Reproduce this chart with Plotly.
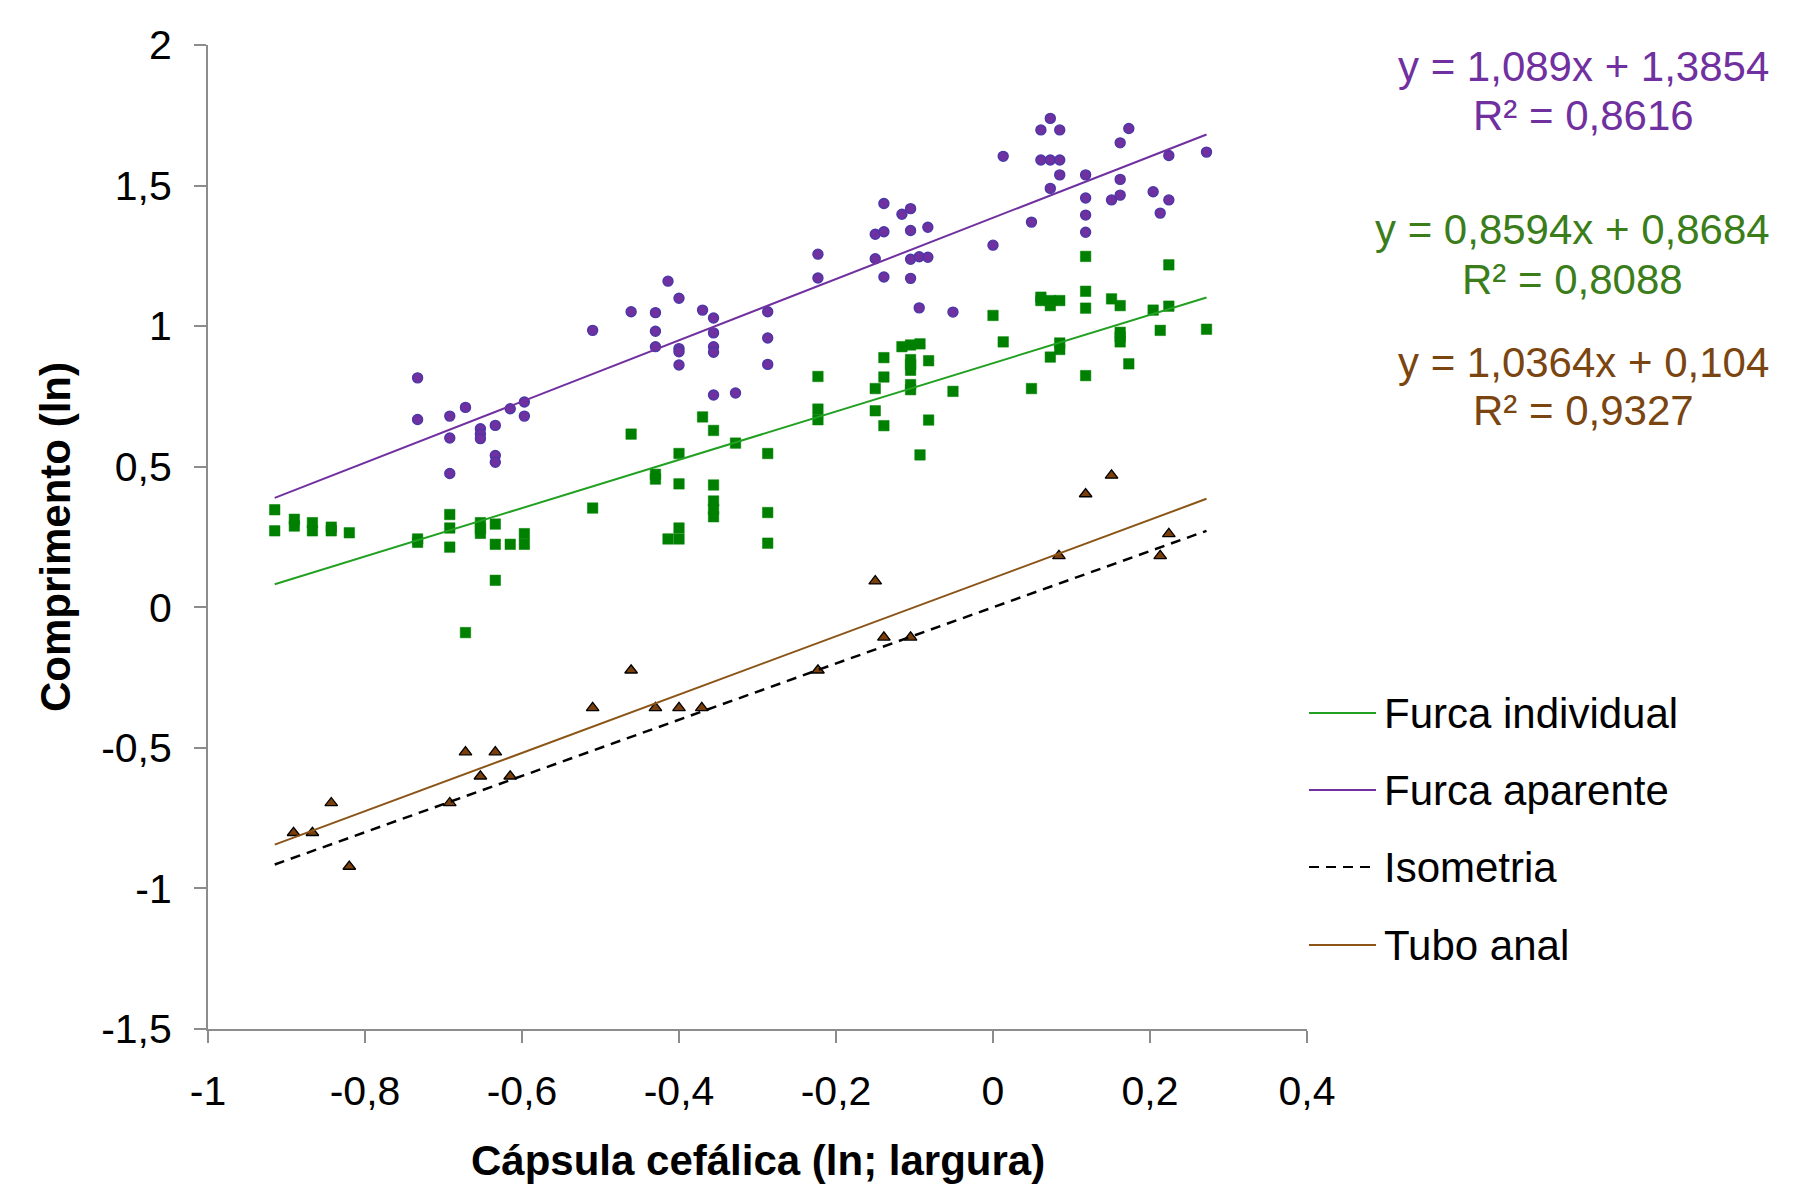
import numpy as np
import plotly.graph_objects as go

# ---- data ----
fa_x = [-0.733, -0.733, -0.692, -0.692, -0.692, -0.672, -0.653, -0.653, -0.653, -0.634, -0.634, -0.634,
        -0.615, -0.597, -0.597,
        -0.510, -0.461, -0.430, -0.430, -0.430, -0.414, -0.400, -0.400, -0.400, -0.400, -0.370, -0.356,
        -0.356, -0.356, -0.356, -0.356, -0.328, -0.287, -0.287, -0.287,
        -0.223, -0.223,
        -0.150, -0.150, -0.139, -0.139, -0.139, -0.116, -0.105, -0.105, -0.105, -0.105, -0.094, -0.083,
        -0.083, -0.094, -0.051, 0.000,
        0.013, 0.049, 0.061, 0.073, 0.085, 0.061, 0.073, 0.085, 0.085, 0.073, 0.118, 0.118, 0.118, 0.118,
        0.151, 0.162, 0.162, 0.162, 0.173, 0.204, 0.213, 0.224, 0.224, 0.272]
fa_y = [0.816, 0.668, 0.680, 0.602, 0.476, 0.711, 0.635, 0.616, 0.600, 0.647, 0.540, 0.516,
        0.706, 0.730, 0.680,
        0.985, 1.051, 1.048, 0.982, 0.927, 1.160, 1.099, 0.920, 0.909, 0.862, 1.057, 1.029,
        0.976, 0.927, 0.907, 0.755, 0.762, 1.051, 0.958, 0.864,
        1.256, 1.171,
        1.327, 1.240, 1.436, 1.336, 1.175, 1.398, 1.418, 1.340, 1.238, 1.170, 1.247, 1.245,
        1.352, 1.065, 1.050, 1.288,
        1.604, 1.370, 1.698, 1.739, 1.698, 1.591, 1.591, 1.591, 1.538, 1.490, 1.538, 1.456, 1.395, 1.334,
        1.449, 1.652, 1.522, 1.466, 1.703, 1.478, 1.402, 1.607, 1.449, 1.619]

fi_x = [-0.915, -0.915, -0.890, -0.890, -0.867, -0.867, -0.843, -0.843, -0.820, -0.733, -0.733,
        -0.692, -0.692, -0.692, -0.672, -0.653, -0.653, -0.653, -0.634, -0.634, -0.634, -0.615,
        -0.597, -0.597, -0.510, -0.461, -0.430, -0.430, -0.414, -0.400, -0.400, -0.400, -0.400,
        -0.370, -0.356, -0.356, -0.356, -0.356, -0.356, -0.328, -0.287, -0.287, -0.287,
        -0.223, -0.223, -0.223, -0.150, -0.150, -0.139, -0.139, -0.139, -0.116, -0.105, -0.093,
        -0.105, -0.105, -0.105, -0.105, -0.105, -0.082, -0.082, -0.093, -0.051,
        0.000, 0.013, 0.049, 0.061, 0.061, 0.073, 0.073, 0.085, 0.073, 0.085, 0.085,
        0.118, 0.118, 0.118, 0.118, 0.151, 0.162, 0.162, 0.162, 0.162, 0.173, 0.204, 0.213,
        0.224, 0.224, 0.272]
fi_y = [0.347, 0.272, 0.313, 0.289, 0.301, 0.272, 0.285, 0.272, 0.265, 0.243, 0.231,
        0.330, 0.282, 0.214, -0.090, 0.301, 0.280, 0.263, 0.296, 0.224, 0.096, 0.224,
        0.262, 0.224, 0.353, 0.616, 0.473, 0.456, 0.243, 0.547, 0.439, 0.282, 0.243,
        0.677, 0.629, 0.435, 0.378, 0.349, 0.322, 0.584, 0.547, 0.337, 0.228,
        0.821, 0.705, 0.667, 0.778, 0.699, 0.888, 0.819, 0.646, 0.927, 0.933, 0.937,
        0.881, 0.863, 0.843, 0.792, 0.774, 0.877, 0.666, 0.542, 0.768,
        1.038, 0.944, 0.778, 1.103, 1.091, 1.091, 1.073, 1.091, 0.890, 0.940, 0.917,
        1.248, 1.124, 1.064, 0.824, 1.097, 1.073, 0.978, 0.962, 0.944, 0.866, 1.057, 0.985,
        1.218, 1.071, 0.989]

ta_x = [-0.891, -0.867, -0.843, -0.820, -0.692, -0.672, -0.653, -0.634, -0.615, -0.510, -0.461,
        -0.430, -0.400, -0.371, -0.223, -0.150, -0.139, -0.105, 0.084, 0.118, 0.151, 0.213, 0.224]
ta_y = [-0.802, -0.802, -0.696, -0.922, -0.696, -0.515, -0.601, -0.515, -0.601, -0.358, -0.224,
        -0.358, -0.358, -0.358, -0.224, 0.093, -0.107, -0.107, 0.183, 0.403, 0.469, 0.183, 0.261]

# trendline coefficients (as labelled on the chart)
fa_coef = (1.089, 1.3854)
fi_coef = (0.8594, 0.8684)
ta_coef = (1.0364, 0.104)
iso_coef = (1.0, 0.0)

legend_names = ["Furca individual", "Furca aparente", "Isometria", "Tubo anal"]
eq_texts = [("y = 1,089x + 1,3854", "R² = 0,8616"),
            ("y = 0,8594x + 0,8684", "R² = 0,8088"),
            ("y = 1,0364x + 0,104", "R² = 0,9327")]

x_ticks = [-1, -0.8, -0.6, -0.4, -0.2, 0, 0.2, 0.4]
x_ticktext = ["-1", "-0,8", "-0,6", "-0,4", "-0,2", "0", "0,2", "0,4"]
y_ticks = [-1.5, -1, -0.5, 0, 0.5, 1, 1.5, 2]
y_ticktext = ["-1,5", "-1", "-0,5", "0", "0,5", "1", "1,5", "2"]

# ---- styling ----
FONT = "Liberation Sans, Arial, sans-serif"
PURPLE = "#7030A0"
GREEN_M = "#008000"
GREEN_L = "#22A022"
BROWN_L = "#8B5518"
BROWN_M = "#7A3F0A"

# page is offset by the 8px body margin; plot area on page: x 208..1307, y 45..1029
OFF = 8
W, H = 1812 - OFF, 1185 - OFF
PX0, PX1, PY0, PY1 = 208, 1307, 45, 1029
L, T = PX0 - OFF, PY0 - OFF
R = W - (PX1 - OFF)
B = H - (PY1 - OFF)
pw, ph = PX1 - PX0, PY1 - PY0


def px_x(px):
    return (px - PX0) / pw


def px_y(py):
    return (PY1 - py) / ph


all_x = np.array(fa_x + fi_x + ta_x)
xl = np.array([all_x.min(), all_x.max()])

fig = go.Figure()

fig.add_trace(go.Scatter(x=fa_x, y=fa_y, mode="markers", showlegend=False,
                         marker=dict(symbol="circle", size=10, color=PURPLE,
                                     line=dict(color="#4838A8", width=1.4))))
fig.add_trace(go.Scatter(x=fi_x, y=fi_y, mode="markers", showlegend=False,
                         marker=dict(symbol="square", size=10.5, color=GREEN_M,
                                     line=dict(color=GREEN_M, width=0.5))))
fig.add_trace(go.Scatter(x=ta_x, y=ta_y, mode="markers", showlegend=False,
                         marker=dict(symbol="triangle-up", size=11, color=BROWN_M,
                                     line=dict(color="black", width=1.3))))

line_specs = [
    (fi_coef, GREEN_L, "solid", 2, legend_names[0]),
    (fa_coef, PURPLE, "solid", 2, legend_names[1]),
    (iso_coef, "black", "10px,7px", 2.5, legend_names[2]),
    (ta_coef, BROWN_L, "solid", 2, legend_names[3]),
]
for coef, col, dash, wdt, name in line_specs:
    fig.add_trace(go.Scatter(x=xl, y=coef[0] * xl + coef[1], mode="lines", name=name,
                             showlegend=False,
                             line=dict(color=col, width=wdt, dash=dash)))

# manual legend
leg_rows = [713, 790, 867, 945]
for (coef, col, dash, wdt, name), yy in zip(line_specs, leg_rows):
    fig.add_shape(type="line", xref="paper", yref="paper",
                  x0=px_x(1309), x1=px_x(1376), y0=px_y(yy), y1=px_y(yy),
                  line=dict(color=col, width=wdt if dash == "solid" else 2.2,
                            dash=dash if dash != "solid" else None))
    fig.add_annotation(xref="paper", yref="paper", x=px_x(1382), y=px_y(yy),
                       xanchor="left", yanchor="middle", text=name, showarrow=False,
                       font=dict(family=FONT, size=42, color="black"))

# equations
eq_colors = [PURPLE, "#3B7D1A", "#7A4510"]
eq_centers = [1583, 1572, 1583]
eq_rows = [(66, 115), (230, 279), (363, 410)]
for (t1, t2), col, cx, (y1, y2) in zip(eq_texts, eq_colors, eq_centers, eq_rows):
    for t, yy in ((t1, y1), (t2, y2)):
        fig.add_annotation(xref="paper", yref="paper", x=px_x(cx), y=px_y(yy),
                           xanchor="center", yanchor="middle", text=t, showarrow=False,
                           font=dict(family=FONT, size=42, color=col))

# axis titles
fig.add_annotation(xref="paper", yref="paper", x=px_x(55), y=0.5, textangle=-90,
                   xanchor="center", yanchor="middle", showarrow=False,
                   text="<b>Comprimento (ln)</b>",
                   font=dict(family=FONT, size=42, color="black"))
fig.add_annotation(xref="paper", yref="paper", x=0.5, y=px_y(1160),
                   xanchor="center", yanchor="middle", showarrow=False,
                   text="<b>Cápsula cefálica (ln; largura)</b>",
                   font=dict(family=FONT, size=42, color="black"))

axis_common = dict(showgrid=False, zeroline=False, showline=True, linecolor="#8C8C8C",
                   linewidth=2, ticks="outside", ticklen=12, tickwidth=2, tickcolor="#8C8C8C",
                   tickfont=dict(family=FONT, size=41, color="black"), mirror=False)

fig.update_xaxes(range=[-1, 0.4], tickvals=x_ticks, ticktext=x_ticktext,
                 ticklabelstandoff=13, **axis_common)
fig.update_yaxes(range=[-1.5, 2], tickvals=y_ticks, ticktext=y_ticktext,
                 ticklabelstandoff=14, **axis_common)

fig.update_layout(width=W, height=H, margin=dict(l=L, r=R, t=T, b=B, pad=0),
                  plot_bgcolor="white", paper_bgcolor="white", showlegend=False,
                  font=dict(family=FONT, color="black"))

fig.write_html("out.html")
